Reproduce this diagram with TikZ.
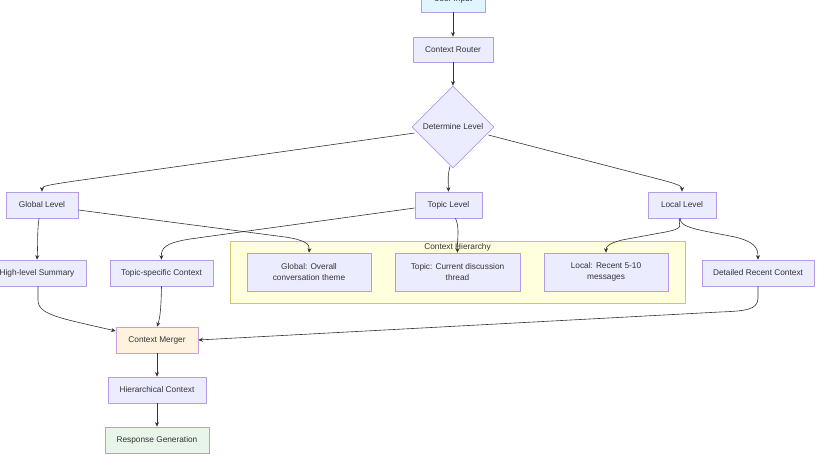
\documentclass[tikz,border=0pt]{standalone}
\usepackage{fontspec}
\setmainfont{Liberation Sans}
\usetikzlibrary{arrows.meta,shapes.geometric}
\definecolor{nfill}{HTML}{ECECFF}
\definecolor{nline}{HTML}{B49CE8}
\definecolor{eline}{HTML}{333333}
\definecolor{cfill}{HTML}{FFFFDE}
\definecolor{cline}{HTML}{C8C870}
\definecolor{bluefill}{HTML}{E1F5FE}
\definecolor{orfill}{HTML}{FFF3E0}
\definecolor{orline}{HTML}{C8A0D8}
\definecolor{grfill}{HTML}{E8F5E9}
\tikzset{
  box/.style={draw=nline,fill=nfill,line width=0.7pt,rectangle,inner sep=0pt,text=black!80,font=\fontsize{8.3}{11}\selectfont,align=center},
  dia/.style={draw=nline,fill=nfill,line width=0.7pt,diamond,aspect=1,inner sep=0pt,minimum width=82pt,minimum height=82pt,text=black!80,font=\fontsize{8.3}{11}\selectfont},
  conn/.style={draw=eline,line width=0.6pt,-{Stealth[length=4.5pt,width=4pt]}},
}
\begin{document}
\begin{tikzpicture}[x=1pt,y=-1pt]
\useasboundingbox (0,0) rectangle (825,465);
% cluster
\node[draw=cline,fill=cfill,line width=0.7pt,minimum width=455pt,minimum height=62pt,inner sep=0pt] (cl) at (457.5,272) {};
\node[font=\fontsize{8.3}{11}\selectfont,text=black!80] (cllab) at (457.5,247) {Context Hierarchy};
% nodes
\node[box,fill=bluefill,minimum width=64pt,minimum height=25pt] (ui) at (453,-0.5) {User Input};
\node[box,minimum width=80pt,minimum height=25pt] (cr) at (453,49.5) {Context Router};
\node[dia] (dl) at (453,127) {Determine Level};
\node[box,minimum width=72pt,minimum height=26pt] (gl) at (42,205) {Global Level};
\node[box,minimum width=67pt,minimum height=26pt] (tl) at (448.5,205) {Topic Level};
\node[box,minimum width=68pt,minimum height=26pt] (ll) at (682,205) {Local Level};
\node[box,minimum width=98pt,minimum height=26pt] (hs) at (37,273) {High-level Summary};
\node[box,minimum width=103pt,minimum height=26pt] (tc) at (161.5,273) {Topic-specific Context};
\node[box,minimum width=124pt,minimum height=38pt] (hg) at (309,272) {Global: Overall\\conversation theme};
\node[box,minimum width=125pt,minimum height=38pt] (ht) at (457.5,272) {Topic: Current discussion\\thread};
\node[box,minimum width=124pt,minimum height=38pt] (hl) at (606,272) {Local: Recent 5-10\\messages};
\node[box,minimum width=112pt,minimum height=26pt] (dr) at (758,273) {Detailed Recent Context};
\node[box,fill=orfill,draw=orline,minimum width=82pt,minimum height=26pt] (cm) at (157,340) {Context Merger};
\node[box,minimum width=98pt,minimum height=26pt] (hc) at (157,390) {Hierarchical Context};
\node[box,fill=grfill,minimum width=104pt,minimum height=26pt] (rg) at (157,440) {Response Generation};
% edges
\draw[conn] (ui) -- (cr);
\draw[conn] (cr) -- (dl);
\draw[conn] (dl.west) ++(3,6) -- (75,181) .. controls (48,185) and (42,186) .. (gl.north);
\draw[conn] (dl.south) ++(-3,-2) .. controls (448,175) .. (tl.north);
\draw[conn] (dl.east) ++(-6,8) -- (662,180) .. controls (677,184) and (682,186) .. (ll.north);
\draw[conn] (gl.south) ++(-3,0) .. controls (37,232) and (38,245) .. (hs.north);
\draw[conn] (gl.east) ++(0,5) -- (285,237) .. controls (305,240) and (310,244) .. (hg.north);
\draw[conn] (tl.west) ++(0,3) -- (190,239) .. controls (165,243) and (161,248) .. (tc.north);
\draw[conn] (tl.south) ++(7,0) .. controls (460,228) and (457,240) .. (ht.north);
\draw[conn] (ll.south) ++(-2,0) .. controls (676,225) and (690,228) .. (660,233) -- (622,240) .. controls (610,243) and (606,246) .. (hl.north);
\draw[conn] (ll.south) ++(-2,0) .. controls (680,228) and (700,230) .. (735,237) .. controls (755,242) and (758,248) .. (dr.north);
\draw[conn] (hs.south) ++(1,0) -- (38,300) .. controls (38,315) and (60,318) .. ([yshift=9pt]cm.west);
\draw[conn] (tc.south) .. controls (161,310) and (160,318) .. (cm.north);
\draw[conn] (dr.south) -- (758,298) .. controls (758,310) and (745,311) .. (720,312) -- (cm.east);
\draw[conn] (cm) -- (hc);
\draw[conn] (hc) -- (rg);
\end{tikzpicture}
\end{document}
